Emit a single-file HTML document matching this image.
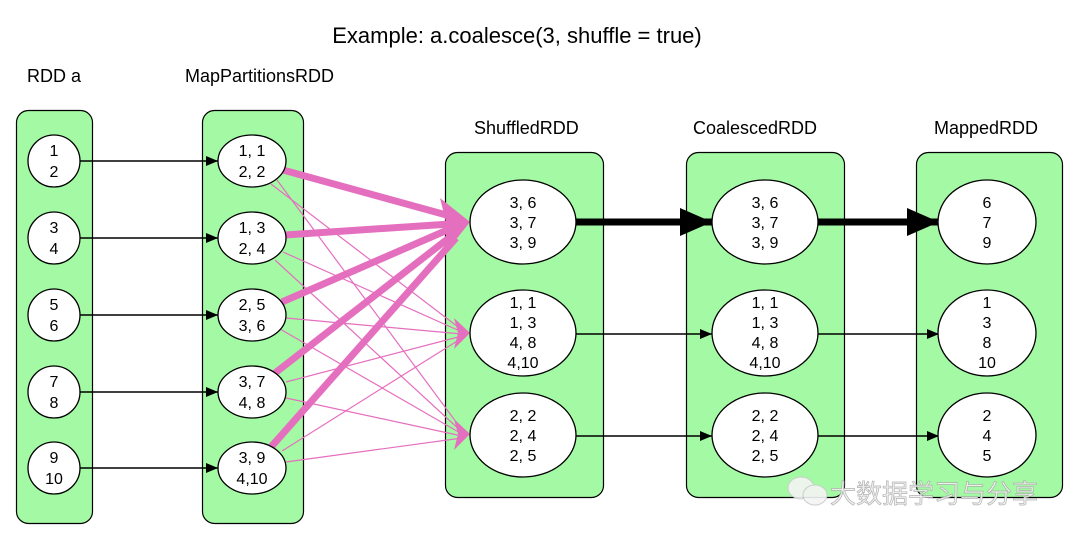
<!DOCTYPE html>
<html><head><meta charset="utf-8"><style>
html,body{margin:0;padding:0;background:#fff;}
svg{display:block;font-family:"Liberation Sans","Noto Sans CJK SC",sans-serif;}
</style></head><body>
<svg width="1080" height="539" viewBox="0 0 1080 539" xmlns="http://www.w3.org/2000/svg">
<defs>
<marker id="ab" markerWidth="12" markerHeight="10" refX="12" refY="5" orient="auto" markerUnits="userSpaceOnUse"><path d="M0,0L12,5L0,10z" fill="#000"/></marker>
<marker id="abig" markerWidth="32" markerHeight="28" refX="32" refY="14" orient="auto" markerUnits="userSpaceOnUse"><path d="M0,0L32,14L0,28z" fill="#000"/></marker>
</defs>
<text x="517" y="43" font-size="22" text-anchor="middle">Example: a.coalesce(3, shuffle = true)</text>
<g font-size="18">
<text x="27" y="82">RDD a</text>
<text x="185" y="82">MapPartitionsRDD</text>
<text x="474" y="134">ShuffledRDD</text>
<text x="693" y="134">CoalescedRDD</text>
<text x="934" y="134">MappedRDD</text>
</g>
<g fill="#a4f9a4" stroke="#000" stroke-width="1.2">
<rect x="16.5" y="110.5" width="76" height="413" rx="12"/>
<rect x="202.5" y="110.5" width="101" height="413" rx="12"/>
<rect x="445.5" y="152.5" width="158" height="345" rx="12"/>
<rect x="686.5" y="152.5" width="158" height="345" rx="12"/>
<rect x="916.5" y="152.5" width="146" height="345" rx="12"/>
</g>
<g stroke="#000" stroke-width="1.5">
<line x1="80" y1="161" x2="218" y2="161" marker-end="url(#ab)"/>
<line x1="80" y1="238" x2="218" y2="238" marker-end="url(#ab)"/>
<line x1="80" y1="315" x2="218" y2="315" marker-end="url(#ab)"/>
<line x1="80" y1="392" x2="218" y2="392" marker-end="url(#ab)"/>
<line x1="80" y1="468" x2="218" y2="468" marker-end="url(#ab)"/>
<line x1="576" y1="334" x2="712" y2="334" marker-end="url(#ab)"/>
<line x1="576" y1="436" x2="712" y2="436" marker-end="url(#ab)"/>
<line x1="818" y1="334" x2="939" y2="334" marker-end="url(#ab)"/>
<line x1="818" y1="436" x2="939" y2="436" marker-end="url(#ab)"/>
</g>
<g stroke="#000" stroke-width="7">
<line x1="576" y1="222" x2="712" y2="222" marker-end="url(#abig)"/>
<line x1="818" y1="222" x2="939" y2="222" marker-end="url(#abig)"/>
</g>
<g stroke="#e56fbf" stroke-width="1.2" fill="none">
<line x1="271" y1="184" x2="462" y2="330"/>
<line x1="277" y1="180" x2="462" y2="430"/>
<line x1="283" y1="252" x2="462" y2="332"/>
<line x1="275" y1="260" x2="462" y2="432"/>
<line x1="286" y1="318" x2="462" y2="334"/>
<line x1="280" y1="329" x2="462" y2="434"/>
<line x1="286" y1="382" x2="462" y2="336"/>
<line x1="286" y1="398" x2="462" y2="436"/>
<line x1="282" y1="451" x2="462" y2="338"/>
<line x1="286" y1="462" x2="462" y2="438"/>
</g>
<g fill="#e56fbf">
<path d="M470,333L454,318L458,333L454,349z"/>
<path d="M470,434L454,419L458,434L454,450z"/>
</g>
<g stroke="#e56fbf" stroke-width="7" stroke-linecap="butt">
<line x1="283" y1="170" x2="450" y2="216"/>
<line x1="285" y1="235" x2="450" y2="224"/>
<line x1="282" y1="302" x2="452" y2="228"/>
<line x1="275" y1="373" x2="454" y2="234"/>
<line x1="271" y1="447" x2="456" y2="238"/>
</g>
<path d="M470,222L440,198L446,222L446,252z" fill="#e56fbf"/>
<g fill="#fff" stroke="#000" stroke-width="1.3">
<circle cx="54" cy="161" r="26"/><circle cx="54" cy="238" r="26"/><circle cx="54" cy="315" r="26"/><circle cx="54" cy="392" r="26"/><circle cx="54" cy="468" r="26"/>
<ellipse cx="252" cy="161" rx="34" ry="26"/><ellipse cx="252" cy="238" rx="34" ry="26"/><ellipse cx="252" cy="315" rx="34" ry="26"/><ellipse cx="252" cy="392" rx="34" ry="26"/><ellipse cx="252" cy="468" rx="34" ry="26"/>
<ellipse cx="523" cy="222" rx="53" ry="42"/><ellipse cx="523" cy="333" rx="53" ry="43"/><ellipse cx="523" cy="435" rx="53" ry="42"/>
<ellipse cx="765" cy="222" rx="53" ry="42"/><ellipse cx="765" cy="333" rx="53" ry="43"/><ellipse cx="765" cy="435" rx="53" ry="42"/>
<ellipse cx="987" cy="222" rx="49" ry="42"/><ellipse cx="987" cy="333" rx="49" ry="43"/><ellipse cx="987" cy="435" rx="49" ry="42"/>
</g>
<g font-size="16" text-anchor="middle">
<text x="54" y="156">1</text><text x="54" y="177">2</text>
<text x="54" y="233">3</text><text x="54" y="254">4</text>
<text x="54" y="310">5</text><text x="54" y="331">6</text>
<text x="54" y="387">7</text><text x="54" y="408">8</text>
<text x="54" y="463">9</text><text x="54" y="484">10</text>
<text x="252" y="156">1, 1</text><text x="252" y="177">2, 2</text>
<text x="252" y="233">1, 3</text><text x="252" y="254">2, 4</text>
<text x="252" y="310">2, 5</text><text x="252" y="331">3, 6</text>
<text x="252" y="387">3, 7</text><text x="252" y="408">4, 8</text>
<text x="252" y="463">3, 9</text><text x="252" y="484">4,10</text>
<text x="523" y="208">3, 6</text><text x="523" y="228">3, 7</text><text x="523" y="248">3, 9</text>
<text x="523" y="308">1, 1</text><text x="523" y="328">1, 3</text><text x="523" y="348">4, 8</text><text x="523" y="368">4,10</text>
<text x="523" y="421">2, 2</text><text x="523" y="441">2, 4</text><text x="523" y="461">2, 5</text>
<text x="765" y="208">3, 6</text><text x="765" y="228">3, 7</text><text x="765" y="248">3, 9</text>
<text x="765" y="308">1, 1</text><text x="765" y="328">1, 3</text><text x="765" y="348">4, 8</text><text x="765" y="368">4,10</text>
<text x="765" y="421">2, 2</text><text x="765" y="441">2, 4</text><text x="765" y="461">2, 5</text>
<text x="987" y="208">6</text><text x="987" y="228">7</text><text x="987" y="248">9</text>
<text x="987" y="308">1</text><text x="987" y="328">3</text><text x="987" y="348">8</text><text x="987" y="368">10</text>
<text x="987" y="421">2</text><text x="987" y="441">4</text><text x="987" y="461">5</text>
</g>
<g opacity="0.9">
<ellipse cx="801" cy="488" rx="13" ry="11" fill="#f4f4f4" stroke="#ccc"/>
<ellipse cx="815" cy="495" rx="12" ry="10" fill="#f4f4f4" stroke="#ccc"/>
<text x="830" y="503" font-size="26" fill="#f2f2f2" stroke="#aaa" stroke-width="0.7" font-family="'Noto Sans CJK SC',sans-serif">大数据学习与分享</text>
</g>
</svg>
</body></html>
